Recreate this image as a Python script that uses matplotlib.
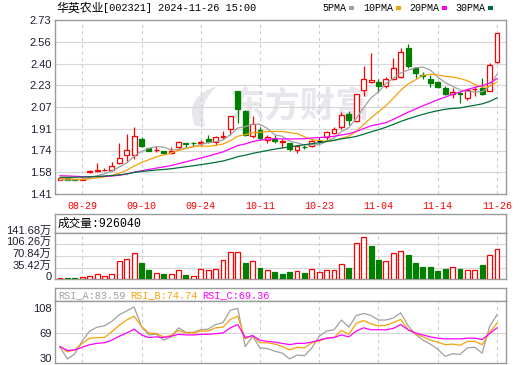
import numpy as np
import pandas as pd
import matplotlib
matplotlib.use('Agg')
import matplotlib.pyplot as plt
from matplotlib.patches import Rectangle, PathPatch
from matplotlib.path import Path
from matplotlib.transforms import ScaledTranslation

plt.rcParams['font.family'] = ['Liberation Sans', 'Noto Sans CJK SC']

# ---- data ----
dates = ['08-26', '08-27', '08-28', '08-29', '08-30', '09-02', '09-03', '09-04', '09-05', '09-06', '09-09', '09-10',
         '09-11', '09-12', '09-13', '09-18', '09-19', '09-20', '09-23', '09-24', '09-25', '09-26', '09-27', '09-30',
         '10-08', '10-09', '10-10', '10-11', '10-14', '10-15', '10-16', '10-17', '10-18', '10-21', '10-22', '10-23',
         '10-24', '10-25', '10-28', '10-29', '10-30', '10-31', '11-01', '11-04', '11-05', '11-06', '11-07', '11-08',
         '11-11', '11-12', '11-13', '11-14', '11-15', '11-18', '11-19', '11-20', '11-21', '11-22', '11-25', '11-26']
label_dates = ['08-29', '09-10', '09-24', '10-11', '10-23', '11-04', '11-14', '11-26']

opens = [1.517, 1.530, 1.522, 1.520, 1.574, 1.582, 1.590, 1.592, 1.643, 1.703,
         1.703, 1.831, 1.756, 1.742, 1.736, 1.720, 1.764, 1.796, 1.800, 1.797,
         1.829, 1.806, 1.843, 1.905, 2.190, 2.040, 1.850, 1.895, 1.822, 1.826,
         1.808, 1.795, 1.745, 1.770, 1.772, 1.815, 1.840, 1.870, 1.915, 2.020,
         1.965, 2.199, 2.258, 2.257, 2.232, 2.282, 2.300, 2.520, 2.368, 2.310,
         2.282, 2.262, 2.217, 2.169, 2.178, 2.141, 2.203, 2.212, 2.194, 2.409]
highs = [1.534, 1.532, 1.525, 1.530, 1.592, 1.643, 1.605, 1.655, 1.794, 1.863,
         1.921, 1.840, 1.762, 1.775, 1.740, 1.764, 1.815, 1.798, 1.802, 1.820,
         1.855, 1.850, 1.890, 2.005, 2.192, 2.045, 2.003, 1.921, 1.855, 1.855,
         1.830, 1.797, 1.782, 1.782, 1.830, 1.835, 1.885, 1.915, 2.030, 2.040,
         2.172, 2.381, 2.477, 2.280, 2.300, 2.439, 2.515, 2.548, 2.376, 2.338,
         2.313, 2.268, 2.229, 2.217, 2.187, 2.204, 2.229, 2.292, 2.401, 2.630]
lows = [1.515, 1.518, 1.515, 1.517, 1.572, 1.575, 1.582, 1.588, 1.640, 1.655,
        1.678, 1.765, 1.735, 1.732, 1.716, 1.712, 1.745, 1.762, 1.774, 1.774,
        1.800, 1.782, 1.825, 1.857, 1.950, 1.850, 1.838, 1.822, 1.795, 1.797,
        1.757, 1.740, 1.718, 1.750, 1.764, 1.800, 1.812, 1.865, 1.905, 1.930,
        1.955, 2.153, 2.250, 2.186, 2.217, 2.275, 2.287, 2.368, 2.287, 2.280,
        2.224, 2.217, 2.161, 2.141, 2.098, 2.123, 2.153, 2.161, 2.189, 2.405]
closes = [1.530, 1.520, 1.518, 1.526, 1.585, 1.594, 1.594, 1.622, 1.680, 1.741,
          1.847, 1.774, 1.740, 1.746, 1.720, 1.735, 1.802, 1.790, 1.796, 1.805,
          1.808, 1.840, 1.848, 2.000, 2.058, 1.858, 1.938, 1.838, 1.845, 1.812,
          1.810, 1.750, 1.774, 1.766, 1.815, 1.815, 1.878, 1.901, 2.008, 1.968,
          2.169, 2.280, 2.272, 2.232, 2.282, 2.368, 2.485, 2.381, 2.325, 2.305,
          2.255, 2.224, 2.166, 2.184, 2.172, 2.196, 2.207, 2.170, 2.390, 2.630]
# closes before the visible window (only used for the moving averages)
prior_closes = [1.50, 1.49, 1.50, 1.51, 1.52, 1.51, 1.50, 1.52, 1.53, 1.52,
                1.55, 1.57, 1.58, 1.59, 1.58, 1.57, 1.56, 1.57, 1.56, 1.55,
                1.56, 1.55, 1.54, 1.53, 1.53, 1.52, 1.51, 1.51, 1.51]

# volume in 万
volumes = [3, 3, 3, 6, 11, 17, 9, 15, 55, 63,
           79, 49, 27, 18, 15, 15, 27, 12, 11, 30,
           27, 32, 58, 84, 84, 49, 55, 33, 27, 22,
           16, 22, 24, 18, 30, 22, 27, 27, 46, 34,
           109, 128, 101, 59, 55, 79, 85, 73, 50, 37,
           37, 25, 31, 36, 31, 28, 28, 42, 73, 92.604]

rsi_a = [47, 29, 37, 57, 72, 78, 80, 87, 97, 103,
         109, 79, 66, 67, 58, 63, 77, 70, 70, 74,
         75, 82, 85, 104, 107, 48, 64, 46, 45, 41,
         38, 29, 35, 34, 46, 64, 72, 74, 89, 78,
         96, 99, 96, 89, 89, 92, 100, 80, 67, 58,
         52, 44, 33, 37, 36, 46, 47, 38, 79, 97]
rsi_b = [48, 40, 43, 53, 61, 62, 62, 71, 81, 89,
         95, 79, 69, 68, 63, 65, 73, 69, 69, 72,
         72, 77, 78, 90, 95, 60, 65, 54, 54, 52,
         48, 43, 47, 46, 54, 57, 61, 62, 73, 67,
         84, 88, 83, 80, 81, 85, 90, 74, 68, 63,
         58, 55, 51, 52, 50, 56, 56, 51, 70, 84]
rsi_c = [48, 42, 43, 47, 51, 53, 54, 58, 64, 69,
         75, 66, 62, 63, 62, 64, 67, 66, 66, 67,
         67, 68, 69, 77, 82, 62, 65, 58, 56, 55,
         53, 51, 53, 53, 55, 58, 61, 62, 66, 63,
         72, 77, 74, 74, 74, 76, 82, 74, 69, 66,
         63, 61, 60, 60, 60, 61, 61, 59, 68, 77]
rsi_last = ['83.59', '74.74', '69.36']

price_ticks = ['2.73', '2.56', '2.40', '2.23', '2.07', '1.91', '1.74', '1.58', '1.41']
vol_ticks = [0, 35.42, 70.84, 106.26, 141.68]
rsi_ticks = [30, 69, 108]

RED = '#ff0000'
GREEN = '#008000'
MA_COLORS = {5: '#a0a0a0', 10: '#f5a20a', 20: '#ff00ff', 30: '#00703a'}
GRID = '#d6d6d6'
FRAME = '#9a9a9a'
TXT = '#1e1e30'
WM = '#e6e6ec'
MONO = ['Liberation Mono', 'Noto Sans CJK SC']

W, H = 520, 365
fig = plt.figure(figsize=(W / 100, H / 100), dpi=100)


def px(xp, yp):
    return (xp / W, 1 - yp / H)


def box(top, bottom, left=55, right=505.5):
    a = fig.add_axes([left / W, 1 - bottom / H, (right - left) / W, (bottom - top) / H])
    for s in a.spines.values():
        s.set_color(FRAME)
        s.set_linewidth(1)
    return a


n = len(closes)
x = np.arange(n)
tick_idx = [dates.index(d) for d in label_dates]
xlim = (-0.68, n + 0.15)


def vgrid(a):
    for i in tick_idx:
        a.axvline(i, color='#cccccc', lw=0.8, ls=(0, (3, 3)), zorder=0.5)


# ---------------- price panel ----------------
ax = box(20, 194)
ax.set_xlim(*xlim)
ymax, ymin = 2.73, 1.41
ax.set_ylim(ymin, ymax)
pt = np.linspace(ymax, ymin, len(price_ticks))
ax.set_yticks(pt)
ax.set_yticklabels(price_ticks)
for v in pt[1:-1]:
    ax.axhline(v, color=GRID, lw=0.8, zorder=0.5)
vgrid(ax)
ax.tick_params(axis='y', length=0, pad=2.5, labelsize=8, labelcolor=TXT)
ax.set_xticks(tick_idx)
ax.set_xticklabels(label_dates, family=MONO, fontsize=7.2, color=RED)
ax.tick_params(axis='x', length=0, pad=5)

# watermark: logo + text
logo = Path([px(195, 126), px(183, 96), px(218, 86), px(198, 101), px(205, 126), px(195, 126)],
            [Path.MOVETO, Path.CURVE3, Path.CURVE3, Path.CURVE3, Path.CURVE3, Path.CLOSEPOLY])
ax.add_patch(PathPatch(logo, transform=fig.transFigure, facecolor=WM, edgecolor='none', zorder=0.2))
ax.text(*px(301, 107), '东方财富', transform=fig.transFigure, fontsize=25.5,
        fontweight='bold', family='Noto Sans CJK SC', color=WM,
        ha='center', va='center', zorder=0.2)

w = 0.66
prev = prior_closes[-1]
for i in range(n):
    o, h, l, c = opens[i], highs[i], lows[i], closes[i]
    if c > o:
        ax.vlines(i, l, h, color=RED, lw=0.9, zorder=2)
        ax.bar(i, c - o, bottom=o, width=w, facecolor='white', edgecolor=RED, lw=0.9, zorder=3)
    elif c < o:
        ax.vlines(i, l, h, color=GREEN, lw=0.9, zorder=2)
        ax.bar(i, o - c, bottom=c, width=w, facecolor=GREEN, edgecolor=GREEN, lw=0.9, zorder=3)
    else:
        col = RED if c > prev else (GREEN if c < prev else 'black')
        ax.vlines(i, l, h, color=col, lw=0.9, zorder=2)
        ax.hlines(c, i - w / 2, i + w / 2, color=col, lw=1.0, zorder=3)
    prev = c

all_close = pd.Series(prior_closes + closes)
for p, col in MA_COLORS.items():
    ma = all_close.rolling(p).mean().values[-n:]
    ax.plot(x, ma, color=col, lw=0.9, zorder=4)

# header
fig.text(*px(56, 8), '华英农业', family='Noto Sans CJK SC', fontsize=8.6, va='center', color='black')
fig.text(*px(103, 8), '[002321] 2024-11-26 15:00', family=MONO, fontsize=7.4, va='center', color='black')
leg_x = [322, 363, 409, 455]
for (p, col), lx in zip(MA_COLORS.items(), leg_x):
    t = f'{p}PMA'
    fig.text(*px(lx, 8), t, family=MONO, fontsize=7.2, va='center', color='black')
    sx = lx + 6 * len(t) + 2.5
    fig.patches.append(Rectangle(px(sx, 9.5), 5 / W, 3.5 / H, transform=fig.transFigure,
                                 facecolor=col, edgecolor='none'))

# ---------------- volume panel ----------------
vt = box(214.3, 232.7)
vt.set_xticks([])
vt.set_yticks([])
vt.text(*px(58, 224), '成交量:' + f'{volumes[-1] * 1e4:.0f}', transform=fig.transFigure,
        family=MONO, fontsize=8.4, va='center', color='black')

av = box(232.7, 279.3)
av.set_xlim(*xlim)
av.set_ylim(0, vol_ticks[-1])
av.set_yticks(vol_ticks)
av.set_yticklabels(['0'] + [f'{v:.2f}万' for v in vol_ticks[1:]])
for v in vol_ticks[1:-1]:
    av.axhline(v, color=GRID, lw=0.8, zorder=0.5)
vgrid(av)
av.set_xticks([])
av.tick_params(axis='y', length=0, pad=2.5, labelsize=8, labelcolor=TXT)
off = ScaledTranslation(0, 0.03, fig.dpi_scale_trans)
for lab in av.get_yticklabels():
    lab.set_transform(lab.get_transform() + off)
prev = prior_closes[-1]
for i in range(n):
    if closes[i] >= prev:
        av.bar(i, volumes[i], width=w, facecolor='white', edgecolor=RED, lw=0.9, zorder=3)
    else:
        av.bar(i, volumes[i], width=w, facecolor=GREEN, edgecolor=GREEN, lw=0.9, zorder=3)
    prev = closes[i]

# ---------------- RSI panel ----------------
rt = box(288.3, 301)
rt.set_xticks([])
rt.set_yticks([])
for k, (name, col, tx) in enumerate(zip(['RSI_A', 'RSI_B', 'RSI_C'],
                                         [MA_COLORS[5], MA_COLORS[10], MA_COLORS[20]],
                                         [58, 130, 202])):
    rt.text(*px(tx, 295), f'{name}:{rsi_last[k]}', transform=fig.transFigure,
            family=MONO, fontsize=7.4, va='center', color=col)

ar = box(301, 363.3)
ar.set_xlim(*xlim)
ar.set_ylim(22.3, 118.3)
ar.set_yticks(rsi_ticks)
ar.set_yticklabels([str(v) for v in rsi_ticks])
ar.axhline(69, color=GRID, lw=0.8, zorder=0.5)
vgrid(ar)
ar.set_xticks([])
ar.tick_params(axis='y', length=0, pad=2.5, labelsize=8, labelcolor=TXT)
ar.plot(x, rsi_a, color=MA_COLORS[5], lw=0.9, zorder=3)
ar.plot(x, rsi_b, color=MA_COLORS[10], lw=0.9, zorder=3)
ar.plot(x, rsi_c, color=MA_COLORS[20], lw=0.9, zorder=3)

fig.savefig('out.png', dpi=100)
